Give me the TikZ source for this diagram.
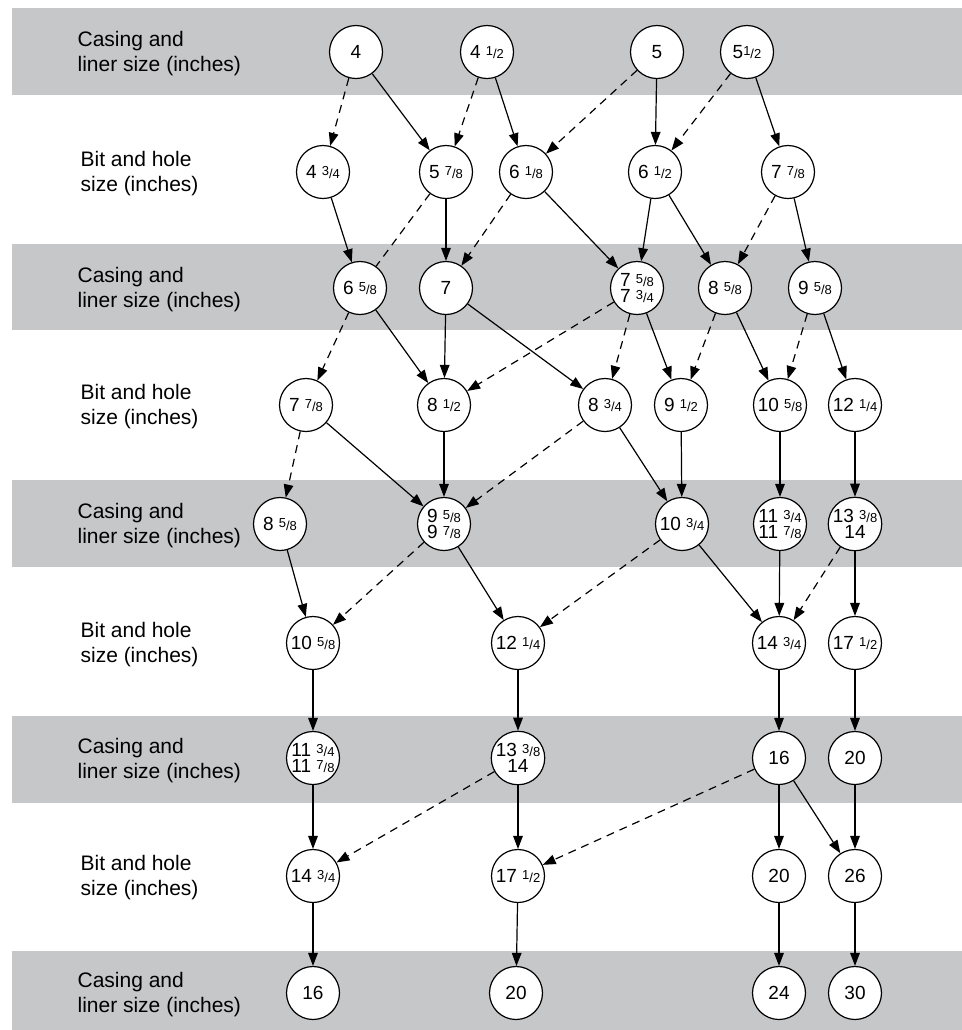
\documentclass[tikz,border=0pt]{standalone}
\usepackage{fontspec}
\setmainfont{Liberation Sans}
\usepackage{tikz}
\usepackage{xcolor}
\usetikzlibrary{arrows.meta}
\definecolor{band}{RGB}{198,199,201}
\newcommand{\fr}[2]{{\fontsize{6.5}{7}\selectfont\raisebox{0.45ex}{#1}/#2}}

\begin{document}
\begin{tikzpicture}[x=0.5pt, y=-0.5pt, line width=0.6pt,
  size/.style={circle, draw, fill=white, minimum size=26.5pt, inner sep=0pt,
    font=\fontsize{9.5}{8.3}\selectfont, align=center},
  rowlabel/.style={anchor=west, align=left, inner sep=0pt, font=\fontsize{10.5}{12.5}\selectfont},
  arr/.style={-{Triangle[length=6.5pt,width=4.8pt]}},
  darr/.style={arr, dash pattern=on 4pt off 3pt}]
\useasboundingbox (0,0) rectangle (962,1030);
% grey bands for casing rows
\fill[band] (12,8) rectangle (962,95);
\fill[band] (12,244) rectangle (962,330);
\fill[band] (12,480) rectangle (962,567);
\fill[band] (12,716) rectangle (962,803);
\fill[band] (12,951) rectangle (962,1030);
% row labels
\node[rowlabel] (lab1) at (77,54) {Casing and\\liner size (inches)};
\node[rowlabel] (lab2) at (80,174) {Bit and hole\\size (inches)};
\node[rowlabel] (lab3) at (77,290) {Casing and\\liner size (inches)};
\node[rowlabel] (lab4) at (80,407) {Bit and hole\\size (inches)};
\node[rowlabel] (lab5) at (77,526) {Casing and\\liner size (inches)};
\node[rowlabel] (lab6) at (80,645) {Bit and hole\\size (inches)};
\node[rowlabel] (lab7) at (77,761) {Casing and\\liner size (inches)};
\node[rowlabel] (lab8) at (80,878) {Bit and hole\\size (inches)};
\node[rowlabel] (lab9) at (77,995) {Casing and\\liner size (inches)};
% row 1
\node[size] (c1a) at (356,52) {4};
\node[size] (c1b) at (487,52) {4 \fr{1}{2}};
\node[size] (c1c) at (657,52) {5};
\node[size] (c1d) at (747,52) {5\fr{1}{2}};
% row 2
\node[size] (b2a) at (323,172) {4 \fr{3}{4}};
\node[size] (b2b) at (446,172) {5 \fr{7}{8}};
\node[size] (b2c) at (526,172) {6 \fr{1}{8}};
\node[size] (b2d) at (655,172) {6 \fr{1}{2}};
\node[size] (b2e) at (788,172) {7 \fr{7}{8}};
% row 3
\node[size] (c3a) at (360,288) {6 \fr{5}{8}};
\node[size] (c3b) at (446,288) {7};
\node[size] (c3c) at (637,288) {7 \fr{5}{8}\\7 \fr{3}{4}};
\node[size] (c3d) at (725,288) {8 \fr{5}{8}};
\node[size] (c3e) at (815,288) {9 \fr{5}{8}};
% row 4
\node[size] (b4a) at (306,405) {7 \fr{7}{8}};
\node[size] (b4b) at (444,405) {8 \fr{1}{2}};
\node[size] (b4c) at (605,405) {8 \fr{3}{4}};
\node[size] (b4d) at (681,405) {9 \fr{1}{2}};
\node[size] (b4e) at (780,405) {10 \fr{5}{8}};
\node[size] (b4f) at (855,405) {12 \fr{1}{4}};
% row 5
\node[size] (c5a) at (280,524) {8 \fr{5}{8}};
\node[size] (c5b) at (444,524) {9 \fr{5}{8}\\9 \fr{7}{8}};
\node[size] (c5c) at (682,524) {10 \fr{3}{4}};
\node[size] (c5d) at (780,524) {11 \fr{3}{4}\\11 \fr{7}{8}};
\node[size] (c5e) at (855,524) {13 \fr{3}{8}\\14};
% row 6
\node[size] (b6a) at (313,643) {10 \fr{5}{8}};
\node[size] (b6b) at (518,643) {12 \fr{1}{4}};
\node[size] (b6c) at (779,643) {14 \fr{3}{4}};
\node[size] (b6d) at (855,643) {17 \fr{1}{2}};
% row 7
\node[size] (c7a) at (313,758) {11 \fr{3}{4}\\11 \fr{7}{8}};
\node[size] (c7b) at (518,758) {13 \fr{3}{8}\\14};
\node[size] (c7c) at (779,758) {16};
\node[size] (c7d) at (855,758) {20};
% row 8
\node[size] (b8a) at (313,876) {14 \fr{3}{4}};
\node[size] (b8b) at (518,876) {17 \fr{1}{2}};
\node[size] (b8c) at (779,876) {20};
\node[size] (b8d) at (855,876) {26};
% row 9
\node[size] (c9a) at (313,993) {16};
\node[size] (c9b) at (516,993) {20};
\node[size] (c9c) at (779,993) {24};
\node[size] (c9d) at (855,993) {30};
% row 1 to row 2
\draw[darr] (c1a) -- (b2a);
\draw[arr] (c1a) -- (b2b);
\draw[darr] (c1b) -- (b2b);
\draw[arr] (c1b) -- (b2c);
\draw[darr] (c1c) -- (b2c);
\draw[arr] (c1c) -- (b2d);
\draw[darr] (c1d) -- (b2d);
\draw[arr] (c1d) -- (b2e);
% row 2 to row 3
\draw[arr] (b2a) -- (c3a);
\draw[dash pattern=on 4pt off 3pt] (b2b) -- (c3a);
\draw[arr] (b2b) -- (c3b);
\draw[darr] (b2c) -- (c3b);
\draw[arr] (b2c) -- (c3c);
\draw[arr] (b2d) -- (c3c);
\draw[arr] (b2d) -- (c3d);
\draw[darr] (b2e) -- (c3d);
\draw[arr] (b2e) -- (c3e);
% row 3 to row 4
\draw[darr] (c3a) -- (b4a);
\draw[arr] (c3a) -- (b4b);
\draw[arr] (c3b) -- (b4b);
\draw[arr] (c3b) -- (b4c);
\draw[darr] (c3c) -- (b4b);
\draw[darr] (c3c) -- (b4c);
\draw[arr] (c3c) -- (b4d);
\draw[darr] (c3d) -- (b4d);
\draw[arr] (c3d) -- (b4e);
\draw[darr] (c3e) -- (b4e);
\draw[arr] (c3e) -- (b4f);
% row 4 to row 5
\draw[darr] (b4a) -- (c5a);
\draw[arr] (b4a) -- (c5b);
\draw[arr] (b4b) -- (c5b);
\draw[darr] (b4c) -- (c5b);
\draw[arr] (b4c) -- (c5c);
\draw[arr] (b4d) -- (c5c);
\draw[arr] (b4e) -- (c5d);
\draw[arr] (b4f) -- (c5e);
% row 5 to row 6
\draw[arr] (c5a) -- (b6a);
\draw[darr] (c5b) -- (b6a);
\draw[arr] (c5b) -- (b6b);
\draw[darr] (c5c) -- (b6b);
\draw[arr] (c5c) -- (b6c);
\draw[arr] (c5d) -- (b6c);
\draw[darr] (c5e) -- (b6c);
\draw[arr] (c5e) -- (b6d);
% row 6 to row 7
\draw[arr] (b6a) -- (c7a);
\draw[arr] (b6b) -- (c7b);
\draw[arr] (b6c) -- (c7c);
\draw[arr] (b6d) -- (c7d);
% row 7 to row 8
\draw[arr] (c7a) -- (b8a);
\draw[darr] (c7b) -- (b8a);
\draw[arr] (c7b) -- (b8b);
\draw[darr] (c7c) -- (b8b);
\draw[arr] (c7c) -- (b8c);
\draw[arr] (c7c) -- (b8d);
\draw[arr] (c7d) -- (b8d);
% row 8 to row 9
\draw[arr] (b8a) -- (c9a);
\draw[arr] (b8b) -- (c9b);
\draw[arr] (b8c) -- (c9c);
\draw[arr] (b8d) -- (c9d);
\end{tikzpicture}
\end{document}
